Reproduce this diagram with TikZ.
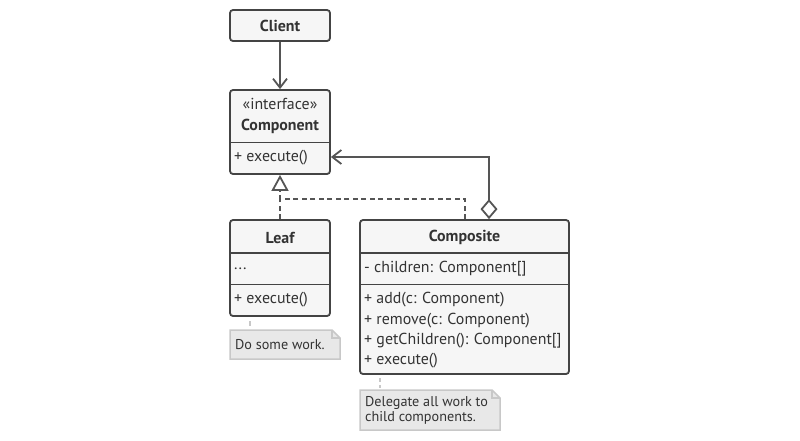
\documentclass[tikz,border=0pt]{standalone}
\usepackage{fontspec}
\setmainfont{PT Sans}
\usetikzlibrary{arrows.meta}
\definecolor{boxfill}{HTML}{F6F6F6}
\definecolor{boxdraw}{HTML}{444444}
\definecolor{linec}{HTML}{555555}
\definecolor{notefill}{HTML}{E8E8E8}
\definecolor{notedraw}{HTML}{C8C8C8}
\definecolor{txt}{HTML}{333333}
\tikzset{
  umlbox/.style={draw=boxdraw, fill=boxfill, line width=1.8pt, rounded corners=3pt, inner sep=0pt},
  divider/.style={draw=boxdraw, line width=1.8pt},
  title/.style={font=\fontsize{15.9}{17}\selectfont\bfseries, text=txt, inner sep=0pt},
  member/.style={font=\fontsize{15.9}{17}\selectfont, text=txt, inner sep=0pt, anchor=west},
  conn/.style={draw=linec, line width=1.8pt},
  notetext/.style={font=\fontsize{14.2}{15}\selectfont, text=txt, inner sep=0pt, anchor=west, align=left},
  notelink/.style={draw=notedraw, line width=1.5pt, dash pattern=on 4pt off 3pt},
  noteshape/.style={fill=notefill, draw=notedraw, line width=1.5pt},
}
\begin{document}
\begin{tikzpicture}[x=1pt,y=-1pt]
\useasboundingbox (0,0) rectangle (800,440);
% Client
\node[umlbox, minimum width=100pt, minimum height=31pt] (client) at (280,25.5) {};
\node[title] (clientT) at (280,25.5) {Client};
% Component
\node[umlbox, minimum width=100pt, minimum height=84pt] (comp) at (280,132) {};
\node[font=\fontsize{15.9}{17}\selectfont, text=txt, inner sep=0pt] (compS) at (280,104) {«interface»};
\node[title] (compT) at (280,126.5) {Component};
\coordinate (compD1l) at (230,142.5); \coordinate (compD1r) at (330,142.5);
\draw[divider] (compD1l) -- (compD1r);
\node[member] (compM) at (234,157.5) {+ execute()};
% Leaf
\node[umlbox, minimum width=100pt, minimum height=96pt] (leaf) at (280,268) {};
\node[title] (leafT) at (280,237.5) {Leaf};
\coordinate (leafD1l) at (230,253); \coordinate (leafD1r) at (330,253);
\coordinate (leafD2l) at (230,284.5); \coordinate (leafD2r) at (330,284.5);
\draw[divider] (leafD1l) -- (leafD1r);
\draw[divider] (leafD2l) -- (leafD2r);
\node[member] (leafF) at (234,268.5) {...};
\node[member] (leafM) at (234,300) {+ execute()};
% Composite
\node[umlbox, minimum width=209pt, minimum height=154pt] (cmp) at (464.5,297) {};
\node[title] (cmpT) at (464.5,237.5) {Composite};
\coordinate (cmpD1l) at (360,253); \coordinate (cmpD1r) at (569,253);
\coordinate (cmpD2l) at (360,284.5); \coordinate (cmpD2r) at (569,284.5);
\draw[divider] (cmpD1l) -- (cmpD1r);
\draw[divider] (cmpD2l) -- (cmpD2r);
\node[member] (cmpF) at (364,269) {- children: Component[]};
\node[member] (cmpM1) at (364,300) {+ add(c: Component)};
\node[member] (cmpM2) at (364,320.5) {+ remove(c: Component)};
\node[member] (cmpM3) at (364,340.5) {+ getChildren(): Component[]};
\node[member] (cmpM4) at (364,360.5) {+ execute()};
% Notes
\draw[noteshape] (230,330) -- (332,330) -- (340,338) -- (340,359) -- (230,359) -- cycle;
\draw[notedraw, line width=1.5pt] (332,330) -- (332,338) -- (340,338);
\node[notetext] (note1) at (235,345) {Do some work.};
\draw[noteshape] (360,390) -- (492,390) -- (500,398) -- (500,430) -- (360,430) -- cycle;
\draw[notedraw, line width=1.5pt] (492,390) -- (492,398) -- (500,398);
\node[notetext] (note2) at (365,410) {Delegate all work to\\child components.};
\coordinate (l1a) at (250,321); \coordinate (l1b) at (250,326);
\draw[notedraw, line width=1.5pt] (l1a) -- (l1b);
\coordinate (l2a) at (380,378); \coordinate (l2b) at (380,388);
\draw[notelink] (l2a) -- (l2b);
% Connectors
\draw[conn, -{Straight Barb[length=9pt, width=14pt, line width=1.8pt]}] (client.south) -- (comp.north);
\draw[conn, {Diamond[open, length=20pt, width=17pt, line width=1.8pt]}-{Straight Barb[length=9pt, width=14pt, line width=1.8pt]}]
  (cmp.north -| 489,0) -- (489,157) -- (comp.east |- 0,157);
\coordinate (join) at (280,199);
\draw[conn, dashed, dash pattern=on 5pt off 3.5pt, -{Triangle[open, length=16pt, width=17pt, line width=1.8pt]}]
  (cmp.north -| 465,0) -- (465,199) -- (join) -- (comp.south);
\draw[conn, dashed, dash pattern=on 5pt off 3.5pt] (leaf.north) -- (join);
\end{tikzpicture}
\end{document}
